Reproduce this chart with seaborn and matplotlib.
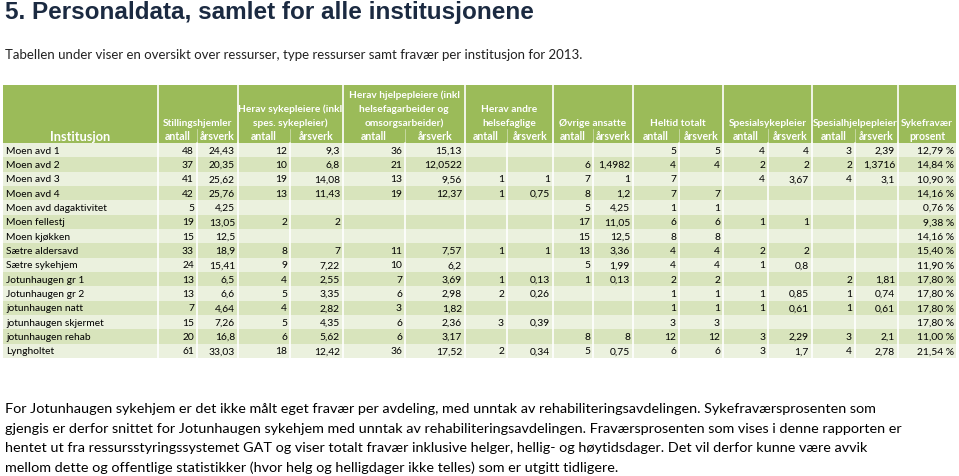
import numpy as np
import seaborn as sns
import matplotlib.pyplot as plt
from matplotlib.colors import ListedColormap
from matplotlib.patches import Rectangle

# Data fra tabellen (None = tom celle)
institusjoner = ["Moen avd 1", "Moen avd 2", "Moen avd 3", "Moen avd 4", "Moen avd dagaktivitet",
                 "Moen fellestj", "Moen kjøkken", "Sætre aldersavd", "Sætre sykehjem",
                 "Jotunhaugen gr 1", "Jotunhaugen gr 2", "jotunhaugen natt", "jotunhaugen skjermet",
                 "jotunhaugen rehab", "Lyngholtet"]
stilling_antall = [48, 37, 41, 42, 5, 19, 15, 33, 24, 13, 13, 7, 15, 20, 61]
stilling_arsverk = [24.43, 20.35, 25.62, 25.76, 4.25, 13.05, 12.5, 18.9, 15.41, 6.5, 6.6, 4.64, 7.26, 16.8, 33.03]
syk_antall = [12, 10, 19, 13, None, 2, None, 8, 9, 4, 5, 4, 5, 6, 18]
syk_arsverk = [9.3, 6.8, 14.08, 11.43, None, 2, None, 7, 7.22, 2.55, 3.35, 2.82, 4.35, 5.62, 12.42]
hjelp_antall = [36, 21, 13, 19, None, None, None, 11, 10, 7, 6, 3, 6, 6, 36]
hjelp_arsverk = [15.13, 12.0522, 9.56, 12.37, None, None, None, 7.57, 6.2, 3.69, 2.98, 1.82, 2.36, 3.17, 17.52]
andre_antall = [None, None, 1, 1, None, None, None, 1, None, 1, 2, None, 3, None, 2]
andre_arsverk = [None, None, 1, 0.75, None, None, None, 1, None, 0.13, 0.26, None, 0.39, None, 0.34]
ovrige_antall = [None, 6, 7, 8, 5, 17, 15, 13, 5, 1, None, None, None, 8, 5]
ovrige_arsverk = [None, 1.4982, 1, 1.2, 4.25, 11.05, 12.5, 3.36, 1.99, 0.13, None, None, None, 8, 0.75]
heltid_antall = [5, 4, 7, 7, 1, 6, 8, 4, 4, 2, 1, 1, 3, 12, 6]
heltid_arsverk = [5, 4, None, 7, 1, 6, 8, 4, 4, 2, 1, 1, 3, 12, 6]
spessyk_antall = [4, 2, 4, None, None, 1, None, 2, 1, None, 1, 1, None, 3, 3]
spessyk_arsverk = [4, 2, 3.67, None, None, 1, None, 2, 0.8, None, 0.85, 0.61, None, 2.29, 1.7]
speshjelp_antall = [3, 2, 4, None, None, None, None, None, None, 2, 1, 1, None, 3, 4]
speshjelp_arsverk = [2.39, 1.3716, 3.1, None, None, None, None, None, None, 1.81, 0.74, 0.61, None, 2.1, 2.78]
sykefravaer = [12.79, 14.84, 10.90, 14.16, 0.76, 9.38, 14.16, 15.40, 11.90, 17.80, 17.80, 17.80, 17.80, 11.00, 21.54]

grupper = [["Stillingshjemler"],
           ["Herav sykepleiere (inkl", "spes. sykepleier)"],
           ["Herav hjelpepleiere (inkl", "helsefagarbeider og", "omsorgsarbeider)"],
           ["Herav andre", "helsefaglige"],
           ["Øvrige ansatte"], ["Heltid totalt"], ["Spesialsykepleier"],
           ["Spesialhjelpepleier"], ["Sykefravær"]]

kolonner = [stilling_antall, stilling_arsverk, syk_antall, syk_arsverk, hjelp_antall, hjelp_arsverk,
            andre_antall, andre_arsverk, ovrige_antall, ovrige_arsverk, heltid_antall, heltid_arsverk,
            spessyk_antall, spessyk_arsverk, speshjelp_antall, speshjelp_arsverk]


def fmt(v):
    if v is None:
        return ""
    if float(v).is_integer():
        return str(int(v))
    return str(v).replace(".", ",")


sns.set_theme(style="white")
plt.rcParams['font.family'] = ['Lato', 'DejaVu Sans']

W, H = 959, 477
gronn = "#9BBB59"
lys = "#EBF1DE"
mork = "#D8E4BC"

# kolonnekanter i piksler
kanter = [3, 158, 197, 238, 290, 343, 405, 465, 507, 553, 593, 633, 679, 723, 768, 812, 855, 898, 956]
topp_hode, topp_kropp, bunn_kropp = 86, 144, 359
n = len(institusjoner)
rh = (bunn_kropp - topp_kropp) / n

fig = plt.figure(figsize=(W / 100, H / 100), dpi=100)
fig.patch.set_facecolor("white")

# bakgrunn for tabellkroppen: en heatmap per kolonne (ulik bredde)
striper = (np.arange(n) % 2)[:, None]
for j in range(len(kanter) - 1):
    x0, x1 = kanter[j], kanter[j + 1]
    bax = fig.add_axes([x0 / W, 1 - bunn_kropp / H, (x1 - x0) / W, (bunn_kropp - topp_kropp) / H])
    sns.heatmap(striper, cmap=ListedColormap([lys, mork]), vmin=0, vmax=1, cbar=False,
                linewidths=0, xticklabels=False, yticklabels=False, ax=bax)

ax = fig.add_axes([0, 0, 1, 1])
ax.set_zorder(5)
ax.set_xlim(0, W)
ax.set_ylim(H, 0)
ax.axis("off")

# hvite skillelinjer mellom cellene
for x in kanter[1:-1]:
    ax.plot([x, x], [topp_kropp, bunn_kropp], color="white", lw=1.2)

# tittel og ingress
ax.text(5, 13, "5. Personaldata, samlet for alle institusjonene", fontsize=17.5, fontweight="bold",
        color="#1B2A41", va="center", ha="left", family=["Liberation Sans", "DejaVu Sans"])
ax.text(5, 55, "Tabellen under viser en oversikt over ressurser, type ressurser samt fravær per institusjon for 2013.",
        fontsize=9.5, color="#222222", va="center", ha="left")

# tabellhode
ax.add_patch(Rectangle((kanter[0], topp_hode), kanter[-1] - kanter[0], topp_kropp - topp_hode,
                       facecolor=gronn, edgecolor="none"))
ax.text((kanter[0] + kanter[1]) / 2, 137, "Institusjon", fontsize=9.2, fontweight="bold",
        color="white", ha="center", va="center")
for g, linjer in enumerate(grupper):
    xa = kanter[1 + 2 * g]
    xb = kanter[3 + 2 * g] if g < len(grupper) - 1 else kanter[-1]
    ax.plot([xa, xa], [topp_hode, topp_kropp], color="white", lw=1.2)
    for k, linje in enumerate(linjer):
        y = 123 - 14 * (len(linjer) - 1 - k)
        ax.text((xa + xb) / 2, y, linje, fontsize=7.3, fontweight="bold", color="white",
                ha="center", va="center")
    if g < len(grupper) - 1:
        xm = kanter[2 + 2 * g]
        ax.plot([xm, xm], [130, topp_kropp], color="white", lw=0.6, alpha=0.5)
        ax.text((xa + xm) / 2, 137, "antall", fontsize=7.6, fontweight="bold", color="white",
                ha="center", va="center")
        ax.text((xm + xb) / 2, 137, "årsverk", fontsize=7.6, fontweight="bold", color="white",
                ha="center", va="center")
    else:
        ax.text((xa + xb) / 2, 137, "prosent", fontsize=7.6, fontweight="bold", color="white",
                ha="center", va="center")

# tabellkropp
for i, navn in enumerate(institusjoner):
    y = topp_kropp + (i + 0.5) * rh
    ax.text(kanter[0] + 3, y, navn, fontsize=7.4, color="black", ha="left", va="center")
    for j, kol in enumerate(kolonner):
        ax.text(kanter[j + 2] - 3, y, fmt(kol[i]), fontsize=7.4, color="black", ha="right", va="center")
    ax.text(kanter[-1] - 2, y, f"{sykefravaer[i]:.2f} %".replace(".", ","), fontsize=7.4,
            color="black", ha="right", va="center")

# fotnote
fotnote = [
    "For Jotunhaugen sykehjem er det ikke målt eget fravær per avdeling, med unntak av rehabiliteringsavdelingen. Sykefraværsprosenten som",
    "gjengis er derfor snittet for Jotunhaugen sykehjem med unntak av rehabiliteringsavdelingen. Fraværsprosenten som vises i denne rapporten er",
    "hentet ut fra ressursstyringssystemet GAT og viser totalt fravær inklusive helger, hellig- og høytidsdager. Det vil derfor kunne være avvik",
    "mellom dette og offentlige statistikker (hvor helg og helligdager ikke telles) som er utgitt tidligere.",
]
for k, linje in enumerate(fotnote):
    ax.text(5, 409 + 19.7 * k, linje, fontsize=10.35, color="black", ha="left", va="center")

fig.savefig("out.png", dpi=100)
